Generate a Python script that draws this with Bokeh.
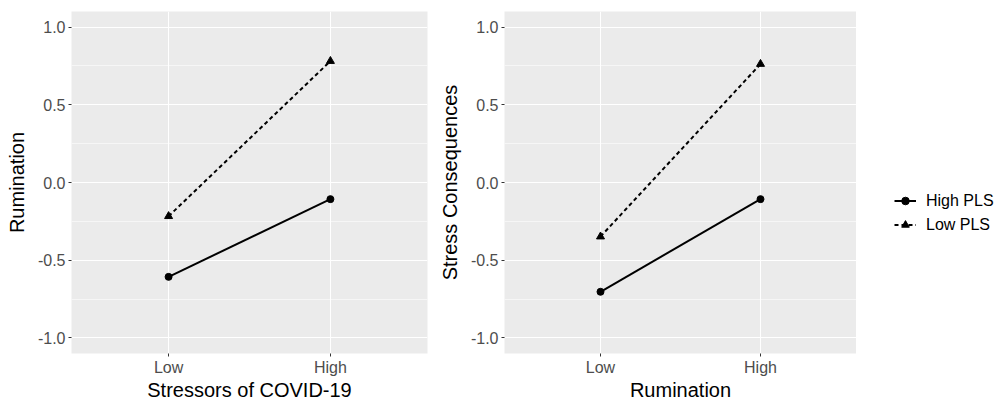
from bokeh.plotting import figure
from bokeh.models import (FactorRange, Range1d, FixedTicker, PrintfTickFormatter,
                          Legend, LegendItem)
from bokeh.layouts import row
from bokeh.embed import file_html
from bokeh.resources import INLINE

# ---- data ----
levels = ["Low", "High"]
left_high_pls = [-0.607, -0.107]
left_low_pls = [-0.217, 0.781]
right_high_pls = [-0.703, -0.107]
right_low_pls = [-0.348, 0.762]
y_ticks = [-1.0, -0.5, 0.0, 0.5, 1.0]
series_labels = ["High PLS", "Low PLS"]
x_titles = ["Stressors of COVID-19", "Rumination"]
y_titles = ["Rumination", "Stress Consequences"]

FONT = "Liberation Sans"
H = 403
minor_ticks = [(a + b) / 2 for a, b in zip(y_ticks[:-1], y_ticks[1:])]


def draw_series(p, high, low):
    r1 = p.line(levels, high, line_color="black", line_width=2)
    r2 = p.scatter(levels, high, marker="circle", size=7, color="black")
    r3 = p.line(levels, low, line_color="black", line_width=2, line_dash="4 3")
    r4 = p.scatter(levels, low, marker="triangle", size=8, color="black")
    return [r1, r2], [r3, r4]


def make_panel(high, low, xt, yt, width, left_border, right_border):
    p = figure(x_range=FactorRange(factors=levels, range_padding=0.1),
               y_range=Range1d(-1.1, 1.1),
               width=width, height=H, output_backend="svg",
               toolbar_location=None, sizing_mode="fixed",
               min_border_left=left_border, min_border_right=right_border,
               min_border_top=11, min_border_bottom=44)
    p.background_fill_color = "#EBEBEB"
    p.outline_line_color = None
    p.border_fill_color = "white"

    p.yaxis.ticker = FixedTicker(ticks=y_ticks, minor_ticks=minor_ticks)
    p.yaxis.formatter = PrintfTickFormatter(format="%.1f")
    for ax in (p.xaxis[0], p.yaxis[0]):
        ax.axis_line_color = None
        ax.major_tick_line_color = "#333333"
        ax.major_tick_in = 0
        ax.major_tick_out = 3
        ax.minor_tick_line_color = None
        ax.major_label_text_font = FONT
        ax.major_label_text_font_size = "16px"
        ax.major_label_text_color = "#4D4D4D"
        ax.axis_label_text_font = FONT
        ax.axis_label_text_font_size = "20px"
        ax.axis_label_text_font_style = "normal"
        ax.axis_label_text_color = "black"
        ax.major_label_standoff = 2
    p.xaxis.axis_label = xt
    p.yaxis.axis_label = yt
    p.xaxis.axis_label_standoff = 0
    p.yaxis.axis_label_standoff = 7

    p.xgrid.grid_line_color = "white"
    p.xgrid.grid_line_width = 1.1
    p.ygrid.grid_line_color = "white"
    p.ygrid.grid_line_width = 1.1
    p.ygrid.minor_grid_line_color = "white"
    p.ygrid.minor_grid_line_width = 0.55

    hi, lo = draw_series(p, high, low)
    return p, hi, lo


p1, _, _ = make_panel(left_high_pls, left_low_pls, x_titles[0], y_titles[0], 435, 71, 8)
p2, _, _ = make_panel(right_high_pls, right_low_pls, x_titles[1], y_titles[1], 421, 66, 0)

# legend panel: its own renderers sit outside the visible range, only the legend shows
p3 = figure(x_range=FactorRange(factors=levels), y_range=Range1d(10, 11),
            width=140, height=H, output_backend="svg", toolbar_location=None,
            sizing_mode="fixed", min_border=0, x_axis_location=None, y_axis_location=None)
p3.outline_line_color = None
p3.grid.visible = False
p3.background_fill_color = "white"
hi_r, lo_r = draw_series(p3, right_high_pls, right_low_pls)

legend = Legend(items=[LegendItem(label=series_labels[0], renderers=hi_r),
                       LegendItem(label=series_labels[1], renderers=lo_r)],
                location=(38, 119))
legend.label_text_font = FONT
legend.label_text_font_size = "16px"
legend.label_text_color = "black"
legend.border_line_color = None
legend.background_fill_color = "white"
legend.glyph_width = 22
legend.glyph_height = 19
legend.label_height = 19
legend.spacing = 5
legend.label_standoff = 10
legend.padding = 5
legend.margin = 0
p3.add_layout(legend, "center")

layout = row(p1, p2, p3, sizing_mode="fixed")
open("out.html", "w").write(file_html(layout, INLINE))
